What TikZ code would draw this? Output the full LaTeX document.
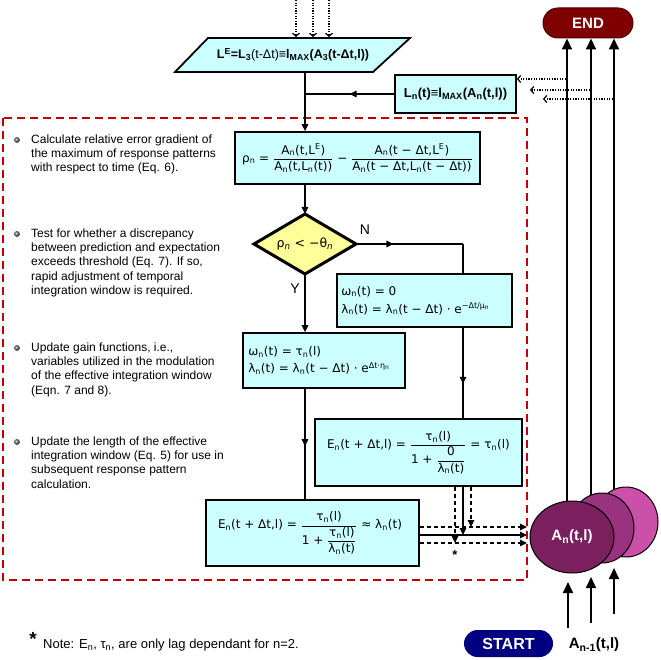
\documentclass[tikz,border=0pt]{standalone}
\usepackage{fontspec}
\setmainfont{Liberation Sans}
\newfontfamily\eqf{DejaVu Sans}
\usetikzlibrary{arrows.meta,decorations.markings,shapes.geometric,backgrounds}
\definecolor{boxcyan}{HTML}{CCFFFF}
\definecolor{diayel}{HTML}{FFFF99}
\definecolor{dashred}{HTML}{C00000}
\definecolor{endred}{HTML}{7F0000}
\definecolor{startblue}{HTML}{000080}
\definecolor{ellA}{HTML}{7B1F5E}
\definecolor{ellB}{HTML}{993380}
\definecolor{ellC}{HTML}{CC4FA8}
\newcommand\sbn[1]{\textsubscript{#1}}
\newcommand\spn[1]{\textsuperscript{#1}}
\newcommand\eqfr[2]{$\displaystyle\frac{\mbox{#1}}{\mbox{#2}}$}
\begin{document}
\begin{tikzpicture}[x=1pt,y=-1pt,
  eqbox/.style={draw=black, line width=1.8pt, fill=boxcyan, inner sep=2pt, font=\eqf\fontsize{12}{16}\selectfont},
  eqtext/.style={inner sep=0pt, align=left},
  conn/.style={line width=1.4pt},
  tipa/.style={-{Triangle[length=7pt,width=6.5pt]}},
  midarr/.style={postaction={decorate}, decoration={markings, mark=at position #1 with {\arrow{Triangle[length=7pt,width=6.5pt]}}}},
  midarr/.default=0.5,
  dashconn/.style={line width=1.4pt, dash pattern=on 4.5pt off 2.5pt},
  dotarr/.style={line width=1.2pt, dash pattern=on 1.2pt off 1.4pt, -{Straight Barb[length=3pt,width=7pt,line width=1.2pt]}},
  bigarr/.style={line width=1.8pt, -{Triangle[length=11pt,width=10pt]}},
  lbl/.style={inner sep=0pt, font=\fontsize{12}{14.3}\selectfont},
  bul/.style={inner sep=0pt, anchor=north west, align=left, font=\fontsize{12}{14.3}\selectfont}
]
\useasboundingbox (0,0) rectangle (661,660);
\draw[dashred, line width=1.8pt, dash pattern=on 8pt off 5pt] (3,118) rectangle (527,580);

% parallelogram
\draw[line width=1.8pt, fill=boxcyan] (208,38) -- (410,38) -- (373,72) -- (175,72) -- cycle;
\node[lbl, font=\fontsize{12.5}{14}\selectfont] (para) at (293,55) {{\bfseries L\spn{E}=L\sbn{3}}(t-Δt){\bfseries ≡l\sbn{MAX}(A\sbn{3}(t-Δt,l))}};
\coordinate (pb) at (305,72);
\coordinate (ptop) at (0,37);

% rho box
\node[eqbox, minimum width=245pt, minimum height=52pt] (rho) at (357.5,158)
  {ρ\sbn{n} = \eqfr{A\sbn{n}(t,L\spn{E})}{A\sbn{n}(t,L\sbn{n}(t))} − \eqfr{A\sbn{n}(t − Δt,L\spn{E})}{A\sbn{n}(t − Δt,L\sbn{n}(t − Δt))}};

% diamond
\coordinate (diaN) at (305,214);
\coordinate (diaS) at (305,274);
\coordinate (diaE) at (356,244);
\coordinate (diaW) at (254,244);
\draw[line width=3pt, fill=diayel] (diaW) -- (diaN) -- (diaE) -- (diaS) -- cycle;
\node[inner sep=0pt, font=\eqf\fontsize{12.5}{14}\selectfont] (dia) at (305,244) {ρ\sbn{\textit{n}} < −θ\sbn{\textit{n}}};

% omega = 0 box
\node[eqbox, minimum width=175pt, minimum height=53pt] (omz) at (424.5,300.5) {};
\node[eqtext, anchor=west, font=\eqf\fontsize{12}{18}\selectfont] (omztxt) at ([xshift=5pt]omz.west)
  {ω\sbn{n}(t) = 0\\λ\sbn{n}(t) = λ\sbn{n}(t − Δt) · e\spn{−Δt/μ\sbn{n}}};

% omega = tau box
\node[eqbox, minimum width=162pt, minimum height=55pt] (omt) at (324,360.5) {};
\node[eqtext, anchor=west, font=\eqf\fontsize{12}{17}\selectfont] (omttxt) at ([xshift=6pt]omt.west)
  {ω\sbn{n}(t) = τ\sbn{n}(l)\\λ\sbn{n}(t) = λ\sbn{n}(t − Δt) · e\spn{Δt·η\sbn{n}}};

% E boxes
\node[eqbox, minimum width=207pt, minimum height=67pt] (eone) at (418.5,452.5)
  {E\sbn{n}(t + Δt,l) = \eqfr{τ\sbn{n}(l)}{1 + \eqfr{0}{λ\sbn{n}(t)}} = τ\sbn{n}(l)};
\node[eqbox, minimum width=213pt, minimum height=66pt] (etwo) at (312.5,533) {};
\node[inner sep=0pt, font=\eqf\fontsize{12}{16}\selectfont] (etwotxt) at (310,533)
  {E\sbn{n}(t + Δt,l) = \eqfr{τ\sbn{n}(l)}{1 + \eqfr{τ\sbn{n}(l)}{λ\sbn{n}(t)}} ≈ λ\sbn{n}(t)};

% L_n box
\node[eqbox, font=\normalfont\bfseries\fontsize{13}{15}\selectfont, minimum width=121pt, minimum height=38pt] (ln) at (455.5,94)
  {L\sbn{n}(t)≡l\sbn{MAX}(A\sbn{n}(t,l))};

% END / START
\node[draw=endred!60!black, line width=1pt, fill=endred, rounded corners=15pt, minimum width=90pt, minimum height=30pt, text=white, font=\bfseries\fontsize{15}{17}\selectfont] (endn) at (588,23) {END};
\node[fill=startblue, rounded corners=13.5pt, minimum width=89pt, minimum height=27pt, text=white, font=\bfseries\fontsize{16}{18}\selectfont] (start) at (508.5,643.5) {START};

% ellipses
\node[ellipse, draw, line width=1pt, fill=ellC, minimum width=64pt, minimum height=70pt] (ec) at (626,522) {};
\node[ellipse, draw, line width=1pt, fill=ellB, minimum width=64pt, minimum height=70pt] (eb) at (602,528) {};
\node[ellipse, draw, line width=1pt, fill=ellA, minimum width=84pt, minimum height=72pt, inner sep=0pt, text=white, font=\bfseries\fontsize{15}{17}\selectfont] (ea) at (572,537) {A\sbn{n}(t,l)};
\node[lbl, font=\bfseries\fontsize{15}{17}\selectfont] (anm) at (594,645) {A\sbn{n-1}(t,l)};

% labels
\node[lbl, font=\fontsize{14}{16}\selectfont] (nlab) at (365,230) {N};
\node[lbl, font=\fontsize{14}{16}\selectfont] (ylab) at (295,289) {Y};
\node[lbl, font=\bfseries\fontsize{13}{14}\selectfont] (star) at (455,555) {*};
\node[lbl, font=\bfseries\fontsize{19}{19}\selectfont] (nstar) at (33,639) {*};
\node[lbl, anchor=west, font=\fontsize{13}{15}\selectfont] (note) at (43,645) {Note: E\sbn{n}, τ\sbn{n}, are only lag dependant for n=2.};

% bullets
\foreach \yy in {140,234,348,442} {\shade[ball color=gray!85!black] (17,\yy) circle (2.9pt);}
\node[bul] (b1) at (31,134.3) {Calculate relative error gradient of\\the maximum of response patterns\\with respect to time (Eq. 6).};
\node[bul] (b2) at (31,228.3) {Test for whether a discrepancy\\between prediction and expectation\\exceeds threshold (Eq. 7). If so,\\rapid adjustment of temporal\\integration window is required.};
\node[bul] (b3) at (31,342.3) {Update gain functions, i.e.,\\variables utilized in the modulation\\of the effective integration window\\(Eqn. 7 and 8).};
\node[bul] (b4) at (31,436.3) {Update the length of the effective\\integration window (Eq. 5) for use in\\subsequent response pattern\\calculation.};

% connectors main column
\draw[conn, tipa] (pb) -- (rho.north -| pb);
\coordinate (jn) at (305,94);
\draw[conn, midarr] (ln.west) -- (jn);
\draw[conn, tipa] (rho.south -| pb) -- (diaN);
\coordinate (nc) at (463,244);
\draw[conn, midarr=0.35] (diaE) -- (nc);
\draw[conn] (nc) -- (omz.north -| nc);
\draw[conn, tipa] (diaS) -- (omt.north -| diaS);
\draw[conn, midarr=0.62] (omz.south -| nc) -- (eone.north -| nc);
\draw[conn, midarr=0.52] (omt.south -| diaS) -- (etwo.north -| diaS);

% outputs to A_n
\coordinate (ha) at (527,527);
\coordinate (hb) at (527,535);
\coordinate (hc) at (527,543);
\draw[dashconn, tipa] (etwo.east |- ha) -- (ha);
\draw[conn, tipa] (etwo.east |- hb) -- (hb);
\draw[dashconn, tipa] (etwo.east |- hc) -- (hc);
\coordinate (va) at (471,527);
\coordinate (vb) at (463,535);
\coordinate (vc) at (455,543);
\draw[dashconn, tipa] (va |- eone.south) -- (va);
\draw[conn, tipa] (vb |- eone.south) -- (vb);
\draw[dashconn, tipa] (vc |- eone.south) -- (vc);

% dotted inputs
\coordinate (d1) at (296,0);
\coordinate (d2) at (313,0);
\coordinate (d3) at (329,0);
\draw[dotarr] (d1) -- (d1 |- ptop);
\draw[dotarr] (d2) -- (d2 |- ptop);
\draw[dotarr] (d3) -- (d3 |- ptop);
\coordinate (r1) at (566,79);
\coordinate (r2) at (590,90);
\coordinate (r2e) at (530,90);
\coordinate (r3) at (613,99);
\coordinate (r3e) at (543,99);
\draw[dotarr] (r1) -- (ln.east |- r1);
\draw[dotarr] (r2) -- (r2e);
\draw[dotarr] (r3) -- (r3e);

% up arrows to END
\coordinate (x1) at (567,0);
\coordinate (x2) at (591,0);
\coordinate (x3) at (614,0);
\begin{scope}[on background layer]
\draw[bigarr] (x1 |- ea.center) -- (x1 |- endn.south);
\draw[bigarr] (x2 |- eb.center) -- (x2 |- endn.south);
\draw[bigarr] (x3 |- ec.center) -- (x3 |- endn.south);
\end{scope}

% up arrows from A_{n-1}
\coordinate (u1) at (568,628);
\coordinate (u1e) at (568,582);
\coordinate (u2) at (591,623);
\coordinate (u2e) at (591,577);
\coordinate (u3) at (614,614);
\coordinate (u3e) at (614,568);
\draw[bigarr] (u1) -- (u1e);
\draw[bigarr] (u2) -- (u2e);
\draw[bigarr] (u3) -- (u3e);
\end{tikzpicture}
\end{document}
